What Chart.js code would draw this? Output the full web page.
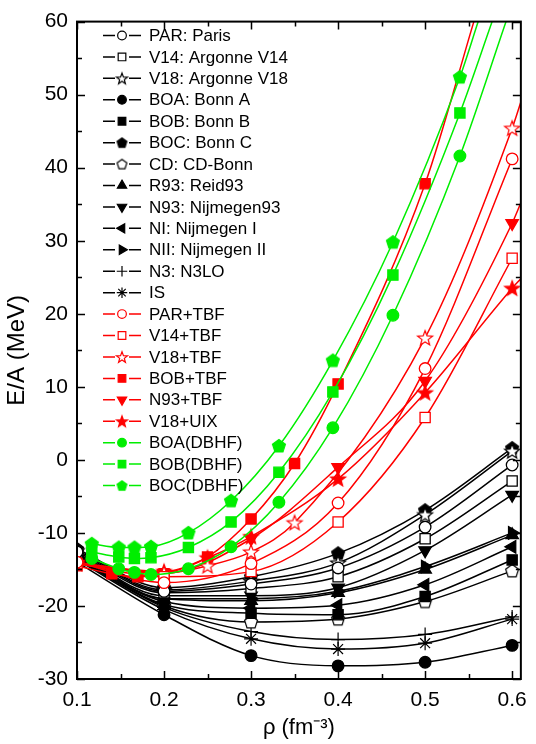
<!DOCTYPE html>
<html lang="en">
<head>
<meta charset="UTF-8" />
<title>E/A vs density</title>
<script src="https://cdn.jsdelivr.net/npm/chart.js@4"></script>
<style>
  html, body { margin: 0; padding: 0; background: #fff; }
  #wrap { width: 536px; height: 744px; }
</style>
</head>
<body>
<div id="wrap"><canvas id="eosChart" width="536" height="744"></canvas></div>
<script>
// axis ticks
const xTicks = [0.1, 0.2, 0.3, 0.4, 0.5, 0.6];
const yTicks = [-30, -20, -10, 0, 10, 20, 30, 40, 50, 60];

// BHF without three-body forces (all at the same densities)
const rho = [0.1, 0.2, 0.3, 0.4, 0.5, 0.6];
const parE = [-12.6, -18.0, -17.0, -14.8, -9.2, -0.7];
const v14E = [-12.8, -18.2, -17.6, -16.0, -10.8, -2.9];
const v18E = [-12.4, -17.8, -16.6, -14.1, -7.5, 1.2];
const boaE = [-14.0, -21.2, -26.8, -28.2, -27.7, -25.4];
const bobE = [-13.4, -19.8, -21.0, -21.2, -18.7, -13.7];
const bocE = [-12.2, -17.5, -16.0, -12.8, -6.9, 1.6];
const cdE = [-13.6, -20.0, -22.2, -21.8, -19.4, -15.2];
const r93E = [-13.0, -19.0, -19.3, -18.2, -15.0, -10.3];
const n93E = [-12.9, -18.6, -18.6, -17.5, -12.4, -4.8];
const niE = [-13.2, -19.4, -20.3, -19.9, -17.1, -11.9];
const niiE = [-13.1, -19.0, -19.0, -18.0, -14.6, -10.0];
const n3E = [-13.5, -20.2, -23.5, -24.6, -23.9, -21.5];
const isE = [-13.7, -20.5, -24.5, -25.9, -25.1, -21.8];

// BHF with three-body forces
const parTbfX = [0.1, 0.2, 0.3, 0.4, 0.5, 0.6];
const parTbfE = [-14.0, -16.8, -14.2, -5.9, 12.5, 41.2];
const v14TbfX = [0.1, 0.2, 0.3, 0.4, 0.5, 0.6];
const v14TbfE = [-14.2, -16.0, -15.3, -8.5, 5.8, 27.6];
const v18TbfX = [0.1, 0.2, 0.25, 0.3, 0.35, 0.5, 0.6];
const v18TbfE = [-14.0, -15.5, -14.5, -12.6, -8.6, 16.7, 45.4];
const bobTbfX = [0.1, 0.14, 0.17, 0.2, 0.25, 0.3, 0.35, 0.4, 0.5];
const bobTbfE = [-14.5, -15.6, -16.0, -15.6, -13.3, -8.1, -0.5, 10.4, 37.8];
const n93TbfX = [0.1, 0.2, 0.3, 0.4, 0.5, 0.6];
const n93TbfE = [-14.3, -15.5, -10.8, -1.0, 10.8, 32.4];
const v18UixX = [0.1, 0.2, 0.25, 0.3, 0.4, 0.5, 0.6];
const v18UixE = [-14.2, -15.3, -13.4, -10.5, -2.6, 9.2, 23.5];

// Dirac-Brueckner results
const dbhfX = [0.117, 0.148, 0.166, 0.185, 0.228, 0.277, 0.332, 0.394, 0.463, 0.540];
const boaDbhfE = [-13.5, -14.9, -15.4, -15.7, -14.9, -11.9, -5.8, 4.4, 19.8, 41.6];
const bobDbhfE = [-12.6, -13.3, -13.5, -13.4, -12.0, -8.5, -1.7, 9.3, 25.3, 47.5];
const bocDbhfE = [-11.5, -12.0, -12.0, -11.9, -10.0, -5.6, 1.9, 13.6, 29.8, 52.4];

// where the fitted curves leave the frame [rho, E/A]
const v18TbfEnd = [0.61, 49.0];
const n93TbfEnd = [0.61, 35.2];
const v18UixEnd = [0.61, 24.8];
const bobTbfEnd = [0.556, 60];
const boaDbhfEnd = [0.593, 60];
const bobDbhfEnd = [0.577, 60];
const bocDbhfEnd = [0.561, 60];

const BLACK = '#000000';
const RED = '#ff0000';
const GREEN = '#00ee00';
const FONT = '"Liberation Sans", Arial, Helvetica, sans-serif';

// polygon markers that Chart.js has no built-in style for
function polyMarker(kind, color, open, r) {
  const s = Math.ceil(2 * r + 4);
  const c = document.createElement('canvas');
  c.width = c.height = s;
  const g = c.getContext('2d');
  g.translate(s / 2, s / 2 + (kind === 'star' ? 0.6 : 0.4));
  const n = kind === 'star' ? 10 : 5;
  g.beginPath();
  for (let i = 0; i < n; i++) {
    const a = -Math.PI / 2 + i * 2 * Math.PI / n;
    const rr = (kind === 'star' && i % 2) ? r * 0.42 : r;
    const px = Math.cos(a) * rr, py = Math.sin(a) * rr;
    if (i === 0) g.moveTo(px, py); else g.lineTo(px, py);
  }
  g.closePath();
  g.fillStyle = open ? '#fff' : color;
  g.fill();
  g.lineWidth = 1.2;
  g.strokeStyle = color;
  g.stroke();
  return c;
}

const M = {
  circle: (open) => ({ style: () => 'circle', r: 5.8, open }),
  square: (open) => ({ style: () => 'rect', r: 7.2, open }),
  tri: (rot) => ({ style: () => 'triangle', r: 7.2, rot, open: false }),
  plus: () => ({ style: () => 'cross', r: 7, open: true, thin: true }),
  aster: () => ({ style: () => 'star', r: 7, open: true, thin: true }),
  pent: (open) => ({ style: (c, r) => polyMarker('pent', c, open, r), r: 6.8, open, poly: true }),
  star: (open) => ({ style: (c, r) => polyMarker('star', c, open, r), r: 7.8, open, poly: true })
};

function series(label, xs, ys, color, m, end, order) {
  const pts = xs.map((x, i) => ({ x: x, y: ys[i] }));
  const n = pts.length;
  if (end) pts.push({ x: end[0], y: end[1] });
  return {
    label: label,
    data: pts,
    order: order,
    marker: m,
    markerColor: color,
    borderColor: color,
    borderWidth: 1.5,
    pointStyle: m.poly ? m.style(color, m.r) : m.style(),
    pointRotation: m.rot || 0,
    pointRadius: (ctx) => ctx.dataIndex < n ? m.r : 0,
    pointHoverRadius: (ctx) => ctx.dataIndex < n ? m.r : 0,
    pointBorderColor: color,
    pointBackgroundColor: m.open ? '#fff' : color,
    pointBorderWidth: m.thin ? 1.2 : 1.3,
    cubicInterpolationMode: 'monotone',
    fill: false
  };
}

const datasets = [
  series('PAR: Paris', rho, parE, BLACK, M.circle(true), null, 2),
  series('V14: Argonne V14', rho, v14E, BLACK, M.square(true), null, 2),
  series('V18: Argonne V18', rho, v18E, BLACK, M.star(true), null, 2),
  series('BOA: Bonn A', rho, boaE, BLACK, M.circle(false), null, 2),
  series('BOB: Bonn B', rho, bobE, BLACK, M.square(false), null, 2),
  series('BOC: Bonn C', rho, bocE, BLACK, M.pent(false), null, 2),
  series('CD: CD-Bonn', rho, cdE, BLACK, M.pent(true), null, 2),
  series('R93: Reid93', rho, r93E, BLACK, M.tri(0), null, 2),
  series('N93: Nijmegen93', rho, n93E, BLACK, M.tri(180), null, 2),
  series('NI: Nijmegen I', rho, niE, BLACK, M.tri(270), null, 2),
  series('NII: Nijmegen II', rho, niiE, BLACK, M.tri(90), null, 2),
  series('N3: N3LO', rho, n3E, BLACK, M.plus(), null, 2),
  series('IS', rho, isE, BLACK, M.aster(), null, 2),
  series('PAR+TBF', parTbfX, parTbfE, RED, M.circle(true), null, 1),
  series('V14+TBF', v14TbfX, v14TbfE, RED, M.square(true), null, 1),
  series('V18+TBF', v18TbfX, v18TbfE, RED, M.star(true), v18TbfEnd, 1),
  series('BOB+TBF', bobTbfX, bobTbfE, RED, M.square(false), bobTbfEnd, 1),
  series('N93+TBF', n93TbfX, n93TbfE, RED, M.tri(180), n93TbfEnd, 1),
  series('V18+UIX', v18UixX, v18UixE, RED, M.star(false), v18UixEnd, 1),
  series('BOA(DBHF)', dbhfX, boaDbhfE, GREEN, M.circle(false), boaDbhfEnd, 0),
  series('BOB(DBHF)', dbhfX, bobDbhfE, GREEN, M.square(false), bobDbhfEnd, 0),
  series('BOC(DBHF)', dbhfX, bocDbhfE, GREEN, M.pent(false), bocDbhfEnd, 0)
];

// frame on all four sides with inward major and minor ticks
const framePlugin = {
  id: 'frame',
  afterDatasetsDraw(chart) {
    const { ctx, chartArea: a, scales: { x, y } } = chart;
    ctx.save();
    ctx.strokeStyle = '#000';
    ctx.lineWidth = 2;
    ctx.strokeRect(a.left, a.top, a.right - a.left, a.bottom - a.top);
    ctx.lineWidth = 1.5;
    ctx.beginPath();
    const xs = [];
    xTicks.forEach((v, i) => {
      xs.push([v, 8]);
      if (i < xTicks.length - 1) xs.push([(v + xTicks[i + 1]) / 2, 5]);
    });
    xs.forEach(([v, len]) => {
      const px = Math.round(x.getPixelForValue(v)) + 0.5;
      ctx.moveTo(px, a.bottom); ctx.lineTo(px, a.bottom - len);
      ctx.moveTo(px, a.top); ctx.lineTo(px, a.top + len);
    });
    const ys = [];
    yTicks.forEach((v, i) => {
      ys.push([v, 8]);
      if (i < yTicks.length - 1) ys.push([(v + yTicks[i + 1]) / 2, 5]);
    });
    ys.forEach(([v, len]) => {
      const py = Math.round(y.getPixelForValue(v)) + 0.5;
      ctx.moveTo(a.left, py); ctx.lineTo(a.left + len, py);
      ctx.moveTo(a.right, py); ctx.lineTo(a.right - len, py);
    });
    ctx.stroke();
    ctx.restore();
  }
};

// legend inside the plot: line - marker - line, then the label
const legendPlugin = {
  id: 'inlineLegend',
  afterDraw(chart) {
    const ctx = chart.ctx;
    ctx.save();
    ctx.font = '17px ' + FONT;
    ctx.textBaseline = 'middle';
    chart.data.datasets.forEach((ds, i) => {
      const yy = 35.5 + i * 21.43;
      const c = ds.markerColor;
      const m = ds.marker;
      ctx.strokeStyle = c;
      ctx.lineWidth = 1.5;
      ctx.beginPath();
      ctx.moveTo(103, yy); ctx.lineTo(115, yy);
      ctx.moveTo(129, yy); ctx.lineTo(141, yy);
      ctx.stroke();
      const r = m.r * 0.75;
      if (m.poly) {
        const img = m.style(c, r);
        ctx.drawImage(img, 122 - img.width / 2, yy - img.height / 2);
      } else {
        ctx.fillStyle = m.open ? '#fff' : c;
        ctx.strokeStyle = c;
        ctx.lineWidth = 1.2;
        Chart.helpers.drawPoint(ctx, { pointStyle: m.style(), rotation: m.rot || 0, radius: r, borderWidth: 1.2 }, 122, yy);
      }
      ctx.fillStyle = '#000';
      ctx.fillText(ds.label, 149, yy + 1);
    });
    ctx.restore();
  }
};

new Chart(document.getElementById('eosChart'), {
  type: 'line',
  data: { datasets: datasets },
  options: {
    responsive: false,
    animation: false,
    devicePixelRatio: 1,
    layout: { padding: { top: 19, right: 13, left: 0, bottom: 0 } },
    plugins: {
      legend: { display: false },
      tooltip: { enabled: false }
    },
    scales: {
      x: {
        type: 'linear',
        min: 0.1,
        max: 0.61,
        afterBuildTicks: (s) => { s.ticks = xTicks.map(v => ({ value: v })); },
        afterFit: (s) => { s.height = 65; },
        grid: { display: false, drawTicks: false },
        border: { display: false },
        ticks: {
          color: '#000',
          padding: 9,
          maxRotation: 0,
          font: { family: FONT, size: 21 },
          callback: (v) => v.toFixed(1)
        },
        title: {
          display: true,
          text: 'ρ (fm⁻³)',
          color: '#000',
          padding: { top: 0, bottom: 3 },
          font: { family: FONT, size: 22 }
        }
      },
      y: {
        type: 'linear',
        min: -30,
        max: 60,
        afterBuildTicks: (s) => { s.ticks = yTicks.map(v => ({ value: v })); },
        afterFit: (s) => { s.width = 77; },
        grid: { display: false, drawTicks: false },
        border: { display: false },
        ticks: {
          color: '#000',
          padding: 9,
          font: { family: FONT, size: 21 }
        },
        title: {
          display: true,
          text: 'E/A (MeV)',
          color: '#000',
          padding: { top: 3, bottom: 0 },
          font: { family: FONT, size: 24 }
        }
      }
    }
  },
  plugins: [framePlugin, legendPlugin]
});
</script>
</body>
</html>
